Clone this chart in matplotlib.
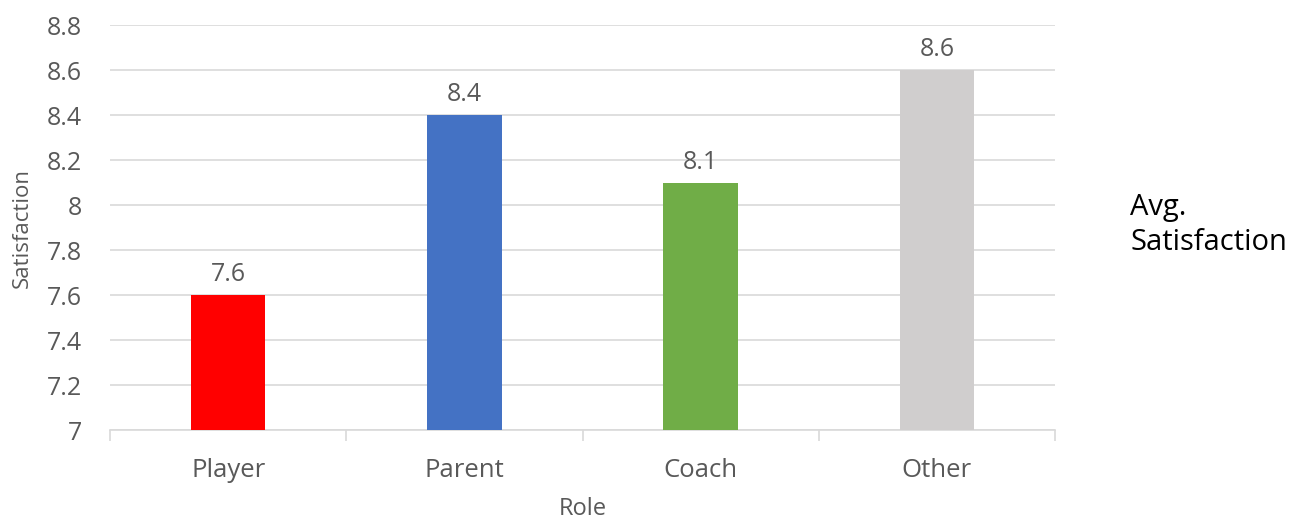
import matplotlib
matplotlib.use("Agg")
import matplotlib.pyplot as plt

categories = ["Player", "Parent", "Coach", "Other"]
values = [7.6, 8.4, 8.1, 8.6]
colors = ["#FF0000", "#4472C4", "#70AD47", "#D0CECE"]
yticks = [7, 7.2, 7.4, 7.6, 7.8, 8, 8.2, 8.4, 8.6, 8.8]
ytick_labels = ["7", "7.2", "7.4", "7.6", "7.8", "8", "8.2", "8.4", "8.6", "8.8"]

plt.rcParams['font.family'] = ['Open Sans', 'DejaVu Sans']
txt = "#595959"

fig = plt.figure(figsize=(12.97, 5.23), dpi=100)
ax = fig.add_axes([110/1297, 1-430/523, (1055-110)/1297, (430-25)/523])

x = list(range(len(categories)))
ax.bar(x, [v - 7 for v in values], bottom=7, width=0.315, color=colors, zorder=3)
for xi, v in zip(x, values):
    ax.text(xi, v + 0.035, f"{v:g}", ha="center", va="bottom", fontsize=18, color=txt)

ax.set_xlim(-0.5, len(categories) - 0.5)
ax.set_ylim(7, 8.8)
ax.set_yticks(yticks)
ax.set_yticklabels(ytick_labels)
ax.grid(axis="y", color="#D9D9D9", linewidth=1.2, zorder=0)
ax.tick_params(axis="y", length=0, pad=20, labelsize=18, labelcolor=txt)

ax.set_xticks(x)
ax.set_xticklabels(categories)
ax.tick_params(axis="x", which="major", length=0, pad=20, labelsize=18.5, labelcolor=txt)
ax.set_xticks([i - 0.5 for i in range(len(categories) + 1)], minor=True)
ax.tick_params(axis="x", which="minor", length=8, color="#D9D9D9", width=1.2)

for s in ["top", "right", "left"]:
    ax.spines[s].set_visible(False)
ax.spines["bottom"].set_color("#D9D9D9")
ax.spines["bottom"].set_linewidth(1.2)

ax.set_ylabel("Satisfaction", fontsize=16, color=txt, labelpad=10)
ax.set_xlabel("Role", fontsize=17, color=txt, labelpad=10)

fig.text(1130/1297, 1-225/523, "Avg.\nSatisfaction", fontsize=21, color="black",
         ha="left", va="center", linespacing=1.3)

fig.savefig("out.png", dpi=100)
